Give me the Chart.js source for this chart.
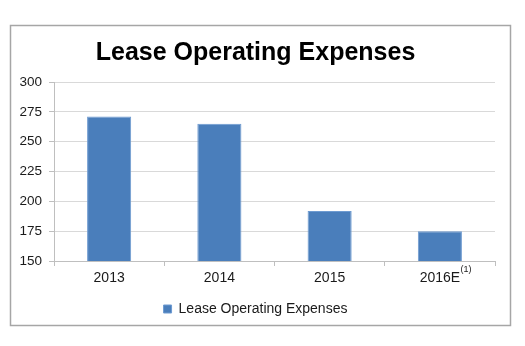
<!DOCTYPE html>
<html>
<head>
<meta charset="utf-8">
<script src="https://cdn.jsdelivr.net/npm/chart.js@4.4.1/dist/chart.umd.min.js"></script>
<style>
  html, body { margin: 0; padding: 0; background: #fff; }
  #wrap { width: 525px; height: 346px; position: relative; }
</style>
</head>
<body>
<div id="wrap"><canvas id="c" width="525" height="346"></canvas></div>
<script>
const categories = ['2013', '2014', '2015', '2016E'];
const footnotes = ['', '', '', '(1)'];
const seriesName = 'Lease Operating Expenses';
const values = [271, 265, 192, 175];
const yTicks = [150, 175, 200, 225, 250, 275, 300];

const FONT = '"Liberation Sans", Arial, sans-serif';

const frame = {
  id: 'frame',
  beforeDraw(chart) {
    const ctx = chart.ctx;
    ctx.save();
    ctx.fillStyle = '#fff';
    ctx.fillRect(0, 0, chart.width, chart.height);
    ctx.strokeStyle = '#a6a6a6';
    ctx.lineWidth = 1.5;
    ctx.strokeRect(10.5, 25.5, 500, 300);
    ctx.restore();
  },
  afterDraw(chart) {
    const ctx = chart.ctx;
    const xs = chart.scales.x;
    ctx.save();
    ctx.fillStyle = '#1a1a1a';
    ctx.textBaseline = 'middle';
    ctx.textAlign = 'left';
    footnotes.forEach((f, i) => {
      if (!f) return;
      ctx.font = '14px ' + FONT;
      const w = ctx.measureText(categories[i]).width;
      const x = xs.getPixelForTick(i) + w / 2 + 0.5;
      ctx.font = '9px ' + FONT;
      ctx.fillText(f, x, xs.top + 9);
    });
    ctx.restore();
  }
};

new Chart(document.getElementById('c'), {
  type: 'bar',
  data: {
    labels: categories,
    datasets: [{
      label: seriesName,
      data: values,
      backgroundColor: '#4a7ebb',
      borderColor: '#6e9bd1',
      borderWidth: 1,
      categoryPercentage: 1,
      barPercentage: 0.4
    }]
  },
  options: {
    responsive: false,
    animation: false,
    devicePixelRatio: 1,
    layout: { padding: { left: 16, right: 30, top: 25, bottom: 20 } },
    plugins: {
      title: {
        display: true,
        text: 'Lease Operating Expenses',
        color: '#000',
        font: { family: FONT, size: 25, weight: 'bold' },
        padding: { top: 13, bottom: 14 }
      },
      legend: {
        position: 'bottom',
        labels: {
          color: '#1a1a1a',
          font: { family: FONT, size: 14 },
          boxWidth: 8,
          boxHeight: 8,
          padding: 6
        }
      },
      tooltip: { enabled: false }
    },
    scales: {
      x: {
        afterFit(s) { s.height = 35; },
        grid: { display: true, drawOnChartArea: false, drawTicks: true, tickLength: 5, color: '#bfbfbf', offset: true },
        border: { display: true, color: '#bfbfbf', width: 1 },
        ticks: {
          color: '#1a1a1a',
          padding: 4,
          font: { family: FONT, size: 14 }
        }
      },
      y: {
        min: 150,
        max: 300,
        afterFit(s) { s.width = 38; },
        afterBuildTicks(s) { s.ticks = yTicks.map(v => ({ value: v })); },
        grid: { color: '#d9d9d9', lineWidth: 1, drawTicks: true, tickLength: 5, tickColor: '#bfbfbf' },
        border: { display: true, color: '#bfbfbf', width: 1 },
        ticks: {
          color: '#1a1a1a',
          padding: 7,
          font: { family: FONT, size: 13.5 }
        }
      }
    }
  },
  plugins: [frame]
});
</script>
</body>
</html>
